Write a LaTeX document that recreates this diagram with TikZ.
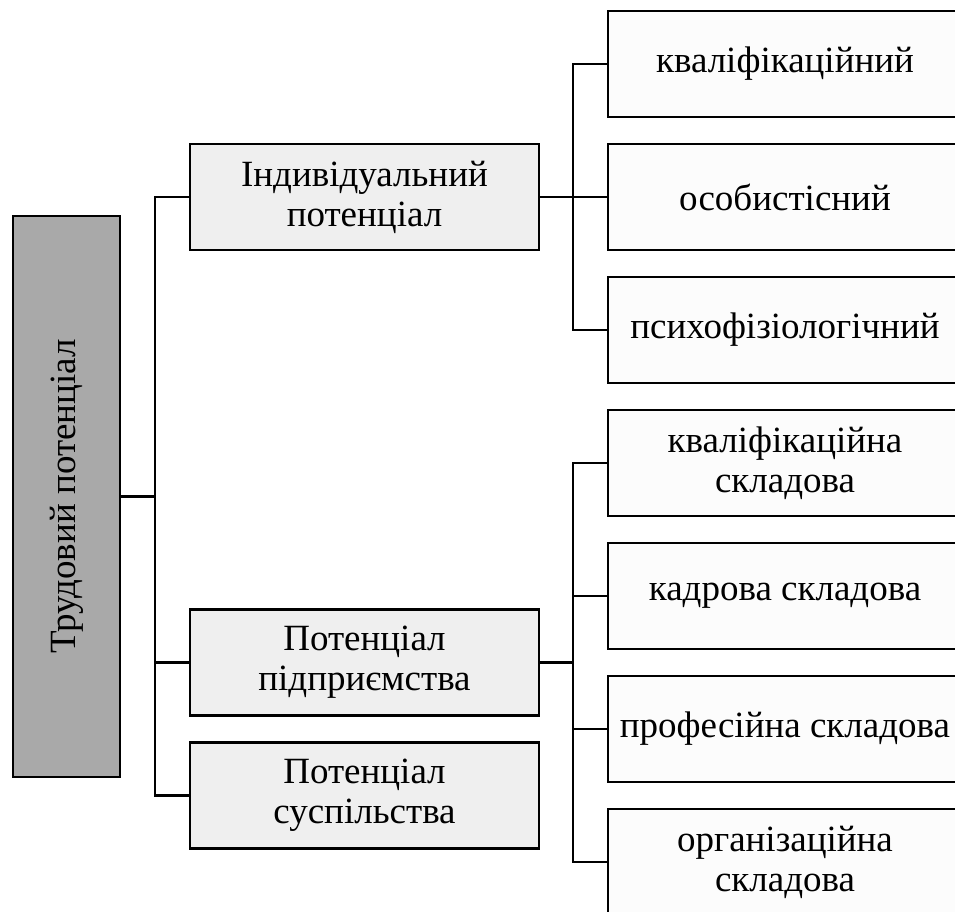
\documentclass[tikz,border=0pt]{standalone}
\usepackage{fontspec}
\setmainfont{Liberation Serif}
\usepackage{xcolor}
\usetikzlibrary{positioning}
\definecolor{mainfill}{HTML}{A9A9A9}
\definecolor{midfill}{HTML}{EFEFEF}
\definecolor{partfill}{HTML}{FCFCFC}

\begin{document}
\begin{tikzpicture}[
  x=1pt,y=1pt,
  every node/.style={font=\fontsize{37}{40}\selectfont,align=center,
                     inner sep=0pt,outer sep=0pt},
  mainbox/.style={draw,fill=mainfill,line width=2.6pt,
                  minimum width=561pt,minimum height=107pt},
  midbox/.style={draw,fill=midfill,line width=2.6pt,
                 minimum width=349pt,minimum height=106pt},
  partbox/.style={draw,fill=partfill,line width=2.6pt,
                  minimum width=354pt,minimum height=106pt},
  conn/.style={line width=2.2pt}
]
\clip (0,0) rectangle (955,912);
\fill[white] (0,0) rectangle (955,912);

% Main block (rotated, so its right side is .south)
\node[mainbox,rotate=90] (trud) at (66.5,415.5) {Трудовий потенціал};

% Second level
\node[midbox] (ind)  at (364.5,715) {Індивідуальний\\потенціал};
\node[midbox] (pidp) at (364.5,249.5) {Потенціал\\підприємства};
\node[midbox] (susp) at (364.5,116.5) {Потенціал\\суспільства};

% Components of the individual potential
\node[partbox] (ikv) at (785,848) {кваліфікаційний};
\node[partbox,below=27pt of ikv] (ios) {особистісний};
\node[partbox,below=27pt of ios] (ips) {психофізіологічний};

% Components of the enterprise potential
\node[partbox,below=27pt of ips] (pkv) {кваліфікаційна\\складова};
\node[partbox,below=27pt of pkv] (pkd) {кадрова складова};
\node[partbox,below=27pt of pkd] (ppr) {професійна складова};
\node[partbox,below=27pt of ppr] (por) {організаційна\\складова};

% Left bus
\draw[conn] (ind.west) -- ++(-35,0) |- (susp.west);
\draw[conn] (pidp.west) -- ++(-35,0);
\draw[conn] (trud.south) -- ++(35,0);
% Right bus, upper group
\draw[conn] (ikv.west) -- ++(-35,0) |- (ips.west);
\draw[conn] (ind.east) -- (ios.west);
% Right bus, lower group
\draw[conn] (pkv.west) -- ++(-35,0) |- (por.west);
\draw[conn] (pkd.west) -- ++(-35,0);
\draw[conn] (ppr.west) -- ++(-35,0);
\draw[conn] (pidp.east) -- ++(34,0);

\end{tikzpicture}
\end{document}
